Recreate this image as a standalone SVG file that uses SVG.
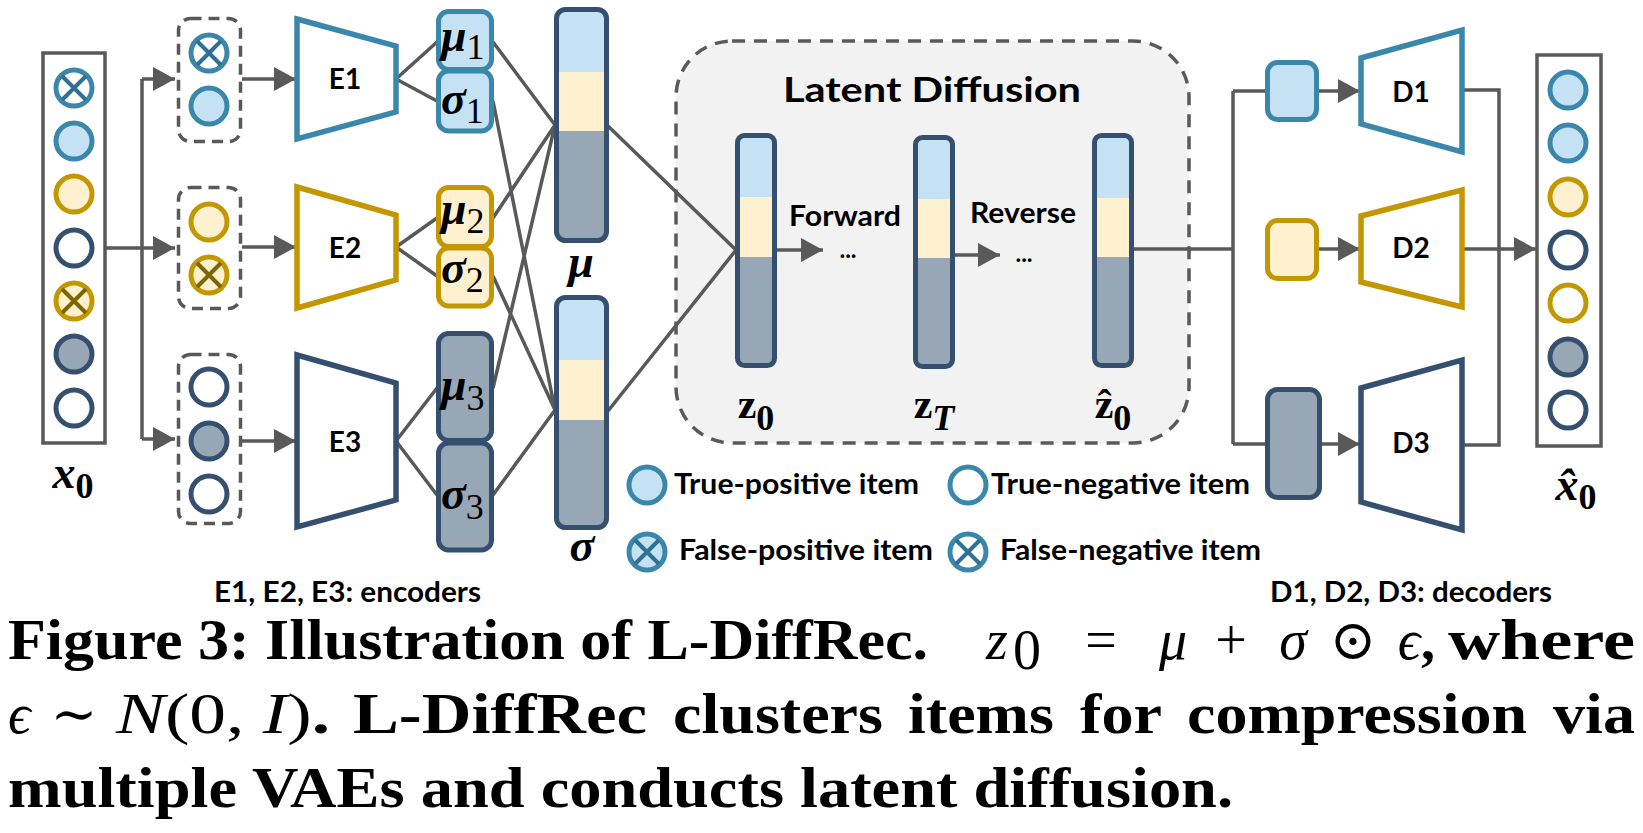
<svg xmlns="http://www.w3.org/2000/svg" width="1643" height="833" viewBox="0 0 1643 833">
<style>
.con{stroke:#595959;stroke-width:3.5;fill:none}
.dash{stroke:#595959;stroke-width:3.5;fill:none;stroke-dasharray:11 7}
.ldash{stroke:#595959;stroke-width:3.5;fill:#f2f2f2;stroke-dasharray:13 9}
.b{stroke:#3b87ab;fill:#c4e2f3;stroke-width:5}
.bw{stroke:#3b87ab;fill:#ffffff;stroke-width:5}
.g{stroke:#c39700;fill:#fff1cf;stroke-width:5}
.gw{stroke:#c39700;fill:#ffffff;stroke-width:5}
.n{stroke:#34506e;fill:#97a7b6;stroke-width:5}
.nw{stroke:#34506e;fill:#ffffff;stroke-width:5}
.xb{stroke:#2f7193;stroke-width:4}
.xg{stroke:#7d6500;stroke-width:4}
.trb{stroke:#3b87ab;fill:#ffffff;stroke-width:5.5}
.trg{stroke:#c39700;fill:#ffffff;stroke-width:5.5}
.trn{stroke:#34506e;fill:#ffffff;stroke-width:5.5}
.lb{fill:#c4e2f3}.ly{fill:#fff1cf}.lg{fill:#97a7b6}
.bar{fill:none;stroke:#34506e;stroke-width:5}
.sans{font-family:Lato,"Open Sans","Liberation Sans",sans-serif;font-weight:700;fill:#000}
.lbl{font-size:28px}
.mid{text-anchor:middle}
.gk{font-family:"Liberation Serif","DejaVu Serif",serif;font-weight:700;font-style:italic;font-size:46px;fill:#000}
.sub{font-family:"Liberation Serif","DejaVu Serif",serif;font-weight:400;font-style:normal;font-size:36px}
.zb{font-family:"Liberation Serif","DejaVu Serif",serif;font-weight:700;font-size:42px;fill:#000}
.zsub{font-family:"Liberation Serif","DejaVu Serif",serif;font-weight:700;font-style:normal;font-size:36px}
.zsubi{font-family:"Liberation Serif","DejaVu Serif",serif;font-weight:700;font-style:italic;font-size:36px}
.cap{font-family:"Liberation Serif","DejaVu Serif",serif;font-weight:700;font-size:56px;fill:#000}
.capi{font-family:"Liberation Serif","DejaVu Serif",serif;font-weight:400;font-style:italic;font-size:56px;fill:#000}
.capr{font-family:"Liberation Serif","DejaVu Serif",serif;font-weight:400;font-size:56px;fill:#000}
</style>
<defs>
<marker id="ah" markerUnits="userSpaceOnUse" markerWidth="24" markerHeight="24" refX="22" refY="12" orient="auto"><path d="M0,0 L22,12 L0,24 z" fill="#595959"/></marker>
</defs>

<g id="latent-box">
<rect class="ldash" x="676" y="41" width="513" height="402" rx="56"/>
<text class="sans mid" x="932" y="102" font-size="35" textLength="298" lengthAdjust="spacingAndGlyphs">Latent Diffusion</text>
</g>

<g id="connectors">
<path class="con" d="M105,248 H142 M142,79 V439"/>
<path class="con" d="M142,79 H175" marker-end="url(#ah)"/>
<path class="con" d="M142,248 H175" marker-end="url(#ah)"/>
<path class="con" d="M142,439 H175" marker-end="url(#ah)"/>
<path class="con" d="M242,79 H296" marker-end="url(#ah)"/>
<path class="con" d="M242,247 H296" marker-end="url(#ah)"/>
<path class="con" d="M242,441 H296" marker-end="url(#ah)"/>
<path class="con" d="M396,79 L437,42 M396,79 L437,101 M396,247 L437,218 M396,247 L437,276 M396,441 L437,388 M396,441 L437,495"/>
<path class="con" d="M493,42 L555,125 M493,218 L555,125 M493,388 L555,125 M493,101 L555,410 M493,276 L555,410 M493,495 L555,410"/>
<path class="con" d="M608,126 L736,250 M608,411 L736,250"/>
<path class="con" d="M777,250 H823" marker-end="url(#ah)"/>
<path class="con" d="M955,255 H1000" marker-end="url(#ah)"/>
<path class="con" d="M1134,249 H1233 M1233,91 V444 M1233,91 H1266 M1233,444 H1266"/>
<path class="con" d="M1319,91 H1360" marker-end="url(#ah)"/>
<path class="con" d="M1319,249 H1360" marker-end="url(#ah)"/>
<path class="con" d="M1322,444 H1360" marker-end="url(#ah)"/>
<path class="con" d="M1462,90 H1499 V445 H1462"/>
<path class="con" d="M1462,249 H1536" marker-end="url(#ah)"/>
</g>

<g id="x0">
<rect x="43" y="53" width="62" height="390" fill="#fff" stroke="#595959" stroke-width="3.5"/>
<circle class="bw" cx="74" cy="88" r="18"/><path class="xb" d="M62,76 L86,100 M86,76 L62,100"/>
<circle class="b" cx="74" cy="141" r="18"/>
<circle class="g" cx="74" cy="194" r="18"/>
<circle class="nw" cx="74" cy="248" r="18"/>
<circle class="g" cx="74" cy="301" r="18"/><path class="xg" d="M62,289 L86,313 M86,289 L62,313"/>
<circle class="n" cx="74" cy="354" r="18"/>
<circle class="nw" cx="74" cy="408" r="18"/>
<text class="gk" x="73" y="488" text-anchor="middle">x<tspan class="zsub" dy="10">0</tspan></text>
</g>

<g id="group1">
<rect class="dash" x="178.5" y="18.5" width="62" height="123" rx="12"/>
<circle class="bw" cx="209" cy="53" r="18"/><path class="xb" d="M197,41 L221,65 M221,41 L197,65"/>
<circle class="b" cx="209" cy="106" r="18"/>
</g>
<g id="group2">
<rect class="dash" x="178.5" y="187.5" width="62" height="121" rx="12"/>
<circle class="g" cx="209" cy="222" r="18"/>
<circle class="g" cx="209" cy="275" r="18"/><path class="xg" d="M197,263 L221,287 M221,263 L197,287"/>
</g>
<g id="group3">
<rect class="dash" x="178.5" y="354.5" width="62" height="169" rx="12"/>
<circle class="nw" cx="209" cy="387" r="18"/>
<circle class="n" cx="209" cy="441" r="18"/>
<circle class="nw" cx="209" cy="494" r="18"/>
</g>

<g id="E1"><polygon class="trb" points="297,19 396,46 396,112 297,139"/><text class="sans lbl mid" x="345" y="89">E1</text></g>
<g id="E2"><polygon class="trg" points="297,187 396,215 396,280 297,308"/><text class="sans lbl mid" x="345" y="258">E2</text></g>
<g id="E3"><polygon class="trn" points="297,355 396,383 396,500 297,527"/><text class="sans lbl mid" x="345" y="452">E3</text></g>

<g id="mu1"><rect class="b" x="438.5" y="11.5" width="53" height="58" rx="10"/><text class="gk" x="441" y="51">μ<tspan class="sub" dy="8">1</tspan></text></g>
<g id="sigma1"><rect class="b" x="438.5" y="71" width="53" height="60" rx="10"/><text class="gk" x="441" y="114">σ<tspan class="sub" dy="9">1</tspan></text></g>
<g id="mu2"><rect class="g" x="438.5" y="187.5" width="53" height="59" rx="10"/><text class="gk" x="441" y="224">μ<tspan class="sub" dy="9">2</tspan></text></g>
<g id="sigma2"><rect class="g" x="438.5" y="248" width="53" height="58" rx="10"/><text class="gk" x="441" y="283">σ<tspan class="sub" dy="9">2</tspan></text></g>
<g id="mu3"><rect class="n" x="438.5" y="333.5" width="53" height="107" rx="10"/><text class="gk" x="441" y="400">μ<tspan class="sub" dy="10">3</tspan></text></g>
<g id="sigma3"><rect class="n" x="438.5" y="443" width="53" height="107" rx="10"/><text class="gk" x="441" y="509">σ<tspan class="sub" dy="10">3</tspan></text></g>

<g id="mu-bar">
<rect class="lb" x="559" y="12" width="45" height="60"/><rect class="ly" x="559" y="72" width="45" height="59"/><rect class="lg" x="559" y="131" width="45" height="107"/>
<rect class="bar" x="556.5" y="9.5" width="50" height="231" rx="9"/>
<text class="gk mid" x="581" y="277">μ</text>
</g>
<g id="sigma-bar">
<rect class="lb" x="559" y="300" width="45" height="60"/><rect class="ly" x="559" y="360" width="45" height="60"/><rect class="lg" x="559" y="420" width="45" height="105"/>
<rect class="bar" x="556.5" y="297.5" width="50" height="230" rx="9"/>
<text class="gk mid" x="582" y="561">σ</text>
</g>

<g id="z0">
<rect class="lb" x="740" y="138" width="32" height="59"/><rect class="ly" x="740" y="197" width="32" height="60"/><rect class="lg" x="740" y="257" width="32" height="106"/>
<rect class="bar" x="737.5" y="135.5" width="37" height="230" rx="7"/>
<text class="zb mid" x="756" y="418">z<tspan class="zsub" dy="12">0</tspan></text>
<text class="sans mid" x="845" y="226" font-size="28" textLength="112" lengthAdjust="spacingAndGlyphs">Forward</text>
<text class="sans mid" x="848" y="258" font-size="24">...</text>
</g>
<g id="zT">
<rect class="lb" x="918" y="140" width="32" height="59"/><rect class="ly" x="918" y="199" width="32" height="59"/><rect class="lg" x="918" y="258" width="32" height="106"/>
<rect class="bar" x="915.5" y="137.5" width="37" height="229" rx="7"/>
<text class="zb mid" x="934" y="418">z<tspan class="zsubi" dy="12">T</tspan></text>
<text class="sans mid" x="1023" y="223" font-size="28" textLength="106" lengthAdjust="spacingAndGlyphs">Reverse</text>
<text class="sans mid" x="1024" y="262" font-size="24">...</text>
</g>
<g id="zhat0">
<rect class="lb" x="1097" y="138" width="32" height="60"/><rect class="ly" x="1097" y="198" width="32" height="59"/><rect class="lg" x="1097" y="257" width="32" height="106"/>
<rect class="bar" x="1094.5" y="135.5" width="37" height="230" rx="7"/>
<text class="zb mid" x="1113" y="418">ẑ<tspan class="zsub" dy="12">0</tspan></text>
</g>

<g id="dec-in1"><rect class="b" x="1267.5" y="62.5" width="49" height="57" rx="10"/></g>
<g id="dec-in2"><rect class="g" x="1267.5" y="220.5" width="49" height="58" rx="10"/></g>
<g id="dec-in3"><rect class="n" x="1267.5" y="389.5" width="52" height="108" rx="10"/></g>

<g id="D1"><polygon class="trb" points="1361,58 1462,30 1462,152 1361,124"/><text class="sans lbl mid" x="1411" y="102">D1</text></g>
<g id="D2"><polygon class="trg" points="1361,216 1462,190 1462,307 1361,282"/><text class="sans lbl mid" x="1411" y="258">D2</text></g>
<g id="D3"><polygon class="trn" points="1361,388 1462,360 1462,530 1361,502"/><text class="sans lbl mid" x="1411" y="453">D3</text></g>

<g id="xhat0">
<rect x="1537" y="55" width="64" height="391" fill="#fff" stroke="#595959" stroke-width="3.5"/>
<circle class="b" cx="1568" cy="90" r="18"/>
<circle class="b" cx="1568" cy="143" r="18"/>
<circle class="g" cx="1568" cy="197" r="18"/>
<circle class="nw" cx="1568" cy="250" r="18"/>
<circle class="gw" cx="1568" cy="303" r="18"/>
<circle class="n" cx="1568" cy="357" r="18"/>
<circle class="nw" cx="1568" cy="410" r="18"/>
<text class="gk" x="1576" y="500" text-anchor="middle">x̂<tspan class="zsub" dy="9">0</tspan></text>
</g>

<g id="legend">
<circle class="b" cx="647" cy="485" r="18"/>
<text class="sans lbl" x="674" y="494" textLength="245" lengthAdjust="spacingAndGlyphs">True-positive item</text>
<circle class="bw" cx="968" cy="485" r="18"/>
<text class="sans lbl" x="991" y="494" textLength="259" lengthAdjust="spacingAndGlyphs">True-negative item</text>
<circle class="b" cx="647" cy="552" r="18"/><path class="xb" d="M635,540 L659,564 M659,540 L635,564"/>
<text class="sans lbl" x="679" y="560" textLength="254" lengthAdjust="spacingAndGlyphs">False-positive item</text>
<circle class="bw" cx="968" cy="552" r="18"/><path class="xb" d="M956,540 L980,564 M980,540 L956,564"/>
<text class="sans lbl" x="1000" y="560" textLength="261" lengthAdjust="spacingAndGlyphs">False-negative item</text>
</g>

<g id="notes">
<text class="sans lbl" x="214" y="602" textLength="267" lengthAdjust="spacingAndGlyphs">E1, E2, E3: encoders</text>
<text class="sans lbl" x="1270" y="602" textLength="282" lengthAdjust="spacingAndGlyphs">D1, D2, D3: decoders</text>
</g>

<g id="caption">
<text class="cap" x="8" y="659" textLength="920" lengthAdjust="spacingAndGlyphs">Figure 3: Illustration of L-DiffRec.</text>
<text class="capi" x="986" y="659" font-size="60">z</text><text class="capr" x="1013" y="669" font-size="40">0</text>
<text class="capr" x="1101" y="659" text-anchor="middle">=</text>
<text class="capi" x="1173" y="659" text-anchor="middle">μ</text>
<text class="capr" x="1231" y="659" text-anchor="middle">+</text>
<text class="capi" x="1293" y="659" text-anchor="middle">σ</text>
<text class="capr" x="1353" y="659" text-anchor="middle">⊙</text>
<text class="capi" x="1409" y="659" text-anchor="middle">ϵ</text>
<text class="cap" x="1421" y="659">,</text>
<text class="cap" x="1448" y="659" textLength="187" lengthAdjust="spacingAndGlyphs">where</text>

<text class="capi" x="8" y="733">ϵ</text>
<text class="capr" x="74" y="733" text-anchor="middle">∼</text>
<text class="capr" x="116" y="733" textLength="214" lengthAdjust="spacingAndGlyphs"><tspan font-style="italic">N</tspan>(0, <tspan font-style="italic">I</tspan>)<tspan font-weight="700">.</tspan></text>
<text class="cap" x="353" y="733" textLength="294" lengthAdjust="spacingAndGlyphs">L-DiffRec</text>
<text class="cap" x="673" y="733" textLength="210" lengthAdjust="spacingAndGlyphs">clusters</text>
<text class="cap" x="908" y="733" textLength="146" lengthAdjust="spacingAndGlyphs">items</text>
<text class="cap" x="1080" y="733" textLength="82" lengthAdjust="spacingAndGlyphs">for</text>
<text class="cap" x="1187" y="733" textLength="340" lengthAdjust="spacingAndGlyphs">compression</text>
<text class="cap" x="1553" y="733" textLength="82" lengthAdjust="spacingAndGlyphs">via</text>

<text class="cap" x="8" y="807" textLength="1225" lengthAdjust="spacingAndGlyphs">multiple VAEs and conducts latent diffusion.</text>
</g>
</svg>
